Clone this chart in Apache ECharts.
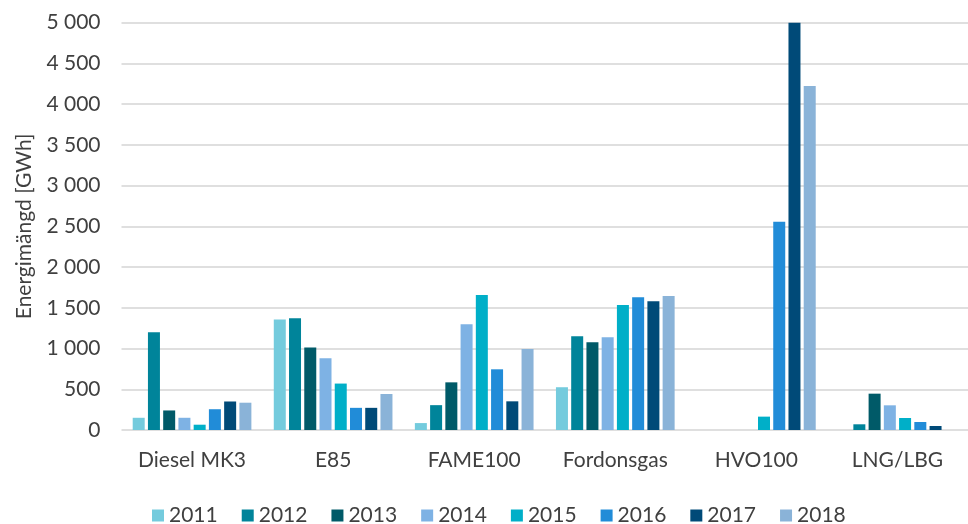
<!DOCTYPE html>
<html>
<head>
<meta charset="utf-8">
<script src="https://cdn.jsdelivr.net/npm/echarts@6/dist/echarts.min.js"></script>
<style>
    html, body { margin: 0; padding: 0; background: #fff; }
    #chart { width: 968px; height: 524px; }
</style>
</head>
<body>
<div id="chart"></div>
<script>
    // kategorier och år
    var categories = ['Diesel MK3', 'E85', 'FAME100', 'Fordonsgas', 'HVO100', 'LNG/LBG']
    var years = ['2011', '2012', '2013', '2014', '2015', '2016', '2017', '2018']
    var yTicks = [0, 500, 1000, 1500, 2000, 2500, 3000, 3500, 4000, 4500, 5000]

    // GWh per år, en array per år (ordning som categories)
    var v2011 = [150, 1355, 85, 525, 0, 0]
    var v2012 = [1200, 1372, 305, 1150, 0, 70]
    var v2013 = [240, 1012, 585, 1077, 0, 446]
    var v2014 = [150, 880, 1298, 1138, 0, 303]
    var v2015 = [65, 570, 1658, 1535, 164, 147]
    var v2016 = [255, 272, 745, 1629, 2558, 98]
    var v2017 = [350, 272, 352, 1580, 5000, 49]
    var v2018 = [335, 442, 995, 1645, 4224, 0]
    var values = [v2011, v2012, v2013, v2014, v2015, v2016, v2017, v2018]

    var colors = ['#74cbdd', '#00849a', '#005a68', '#7eb2e4', '#00afc8', '#218cd8', '#004a78', '#8ab3d8']

    var font = 'Lato, "Liberation Sans", sans-serif'

    var chart = echarts.init(document.getElementById('chart'))
    var option = {
        animation: false,
        color: colors,
        grid: {
            left: 121.5,
            top: 22.7,
            width: 857.4,
            height: 407.3
        },
        legend: {
            left: 147,
            top: 500,
            icon: 'rect',
            itemWidth: 12,
            itemHeight: 12,
            itemGap: 24,
            textStyle: { color: '#404040', fontSize: 21, fontFamily: font },
            data: years
        },
        xAxis: {
            type: 'category',
            data: categories,
            axisTick: { show: false },
            axisLine: { show: false },
            axisLabel: { color: '#404040', fontSize: 21, fontFamily: font, margin: 20 }
        },
        yAxis: {
            type: 'value',
            min: yTicks[0],
            max: yTicks[yTicks.length - 1],
            interval: 500,
            name: 'Energimängd [GWh]',
            nameLocation: 'middle',
            nameGap: 87,
            nameTextStyle: { color: '#404040', fontSize: 21, fontFamily: font },
            axisLabel: {
                color: '#404040',
                fontSize: 21,
                fontFamily: font,
                margin: 21,
                // mellanslag som tusentalsavgränsare
                formatter: function (v) {
                    return String(v).replace(/\B(?=(\d{3})+(?!\d))/g, ' ')
                }
            },
            splitLine: { lineStyle: { color: '#d4d4d4', width: 1.5 } }
        },
        series: years.map(function (y, i) {
            return {
                name: y,
                type: 'bar',
                barWidth: 12,
                barGap: '27%',
                data: values[i]
            }
        })
    }
    chart.setOption(option)
</script>
</body>
</html>
